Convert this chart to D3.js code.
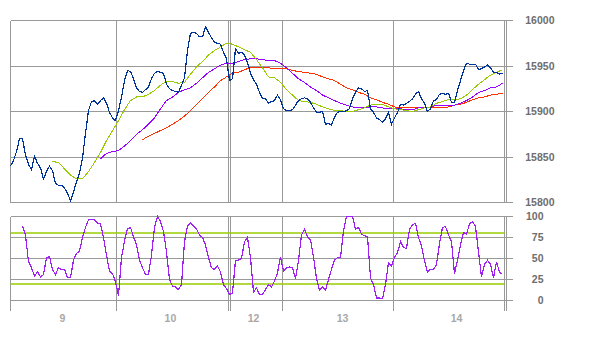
<!DOCTYPE html>
<html>
<head>
<meta charset="utf-8">
<style>
  body { margin: 0; background: #fff; }
  svg text { font-family: "Liberation Sans", Arial, sans-serif; font-weight: bold; font-size: 10.5px; }
</style>
</head>
<body>
<div class="chart"></div>
<script src="https://cdnjs.cloudflare.com/ajax/libs/d3/7.8.5/d3.min.js"></script>
<script>
// price, one value per bar
var price = [
  15840,15846,15856,15870,15870,15852,15842,15836,15851,15843,
  15838,15826,15834,15840,15835,15821,15819,15819,15816,15810,
  15802,15811,15823,15832,15849,15876,15901,15911,15912,15908,
  15912,15915,15909,15899,15893,15890,15901,15916,15934,15945,
  15944,15936,15926,15922,15921,15924,15927,15936,15942,15944,
  15943,15942,15930,15925,15923,15922,15921,15929,15937,15967,
  15986,15987,15986,15982,15982,15993,15987,15981,15976,15975,
  15974,15965,15958,15934,15936,15969,15964,15965,15962,15954,
  15942,15935,15930,15921,15914,15914,15909,15911,15912,15918,
  15913,15903,15901,15901,15902,15907,15912,15914,15915,15914,
  15910,15904,15899,15899,15900,15886,15887,15885,15894,15899,
  15900,15900,15901,15903,15914,15921,15926,15925,15922,15923,
  15903,15899,15893,15891,15888,15892,15899,15886,15893,15899,
  15908,15907,15909,15911,15914,15919,15922,15914,15909,15900,
  15903,15912,15913,15919,15920,15919,15920,15910,15910,15923,
  15934,15945,15953,15952,15952,15952,15946,15947,15949,15951,
  15948,15943,15943,15941,15942
];

// moving averages, one value every 2 bars from their first bar
var maFastStart = 14;
var maFast = [
  15845,15844,15837,15830,15826,15826,15834,15844,15855,15868,
  15879,15890,15902,15912,15916,15916,15919,15923,15929,15933,
  15933,15931,15932,15941,15949,15955,15962,15967,15971,15975,
  15974,15971,15968,15965,15957,15948,15938,15937,15932,15924,
  15918,15912,15911,15910,15908,15905,15903,15901,15901,15900,
  15900,15902,15904,15907,15908,15908,15905,15903,15902,15901,
  15900,15902,15904,15905,15909,15911,15913,15913,15914,15918,
  15924,15930,15935,15940,15943,15946
];
var maMidStart = 30;
var maMid = [
  15848,15854,15856,15857,15862,15868,15875,15880,15886,15893,
  15903,15912,15916,15921,15924,15926,15931,15937,15943,15947,
  15951,15953,15953,15955,15957,15958,15958,15957,15956,15956,
  15953,15948,15942,15936,15932,15927,15923,15918,15915,15912,
  15909,15907,15905,15904,15904,15905,15905,15904,15903,15903,
  15903,15902,15902,15904,15904,15905,15907,15907,15907,15907,
  15909,15912,15916,15921,15923,15926,15927,15931
];
var maSlowStart = 44;
var maSlow = [
  15869,15873,15876,15879,15882,15886,15890,15895,15901,15908,
  15914,15921,15927,15934,15938,15942,15943,15946,15948,15948,
  15948,15948,15947,15947,15947,15945,15944,15943,15942,15941,
  15938,15936,15934,15930,15926,15924,15921,15919,15915,15913,
  15910,15908,15905,15904,15904,15904,15904,15904,15904,15904,
  15904,15905,15907,15908,15910,15913,15915,15916,15918,15919,
  15920
];

// oscillator, one value per bar from its first bar
var oscStart = 4;
var osc = [
  89,78,46,39,29,34,28,31,51,52,
  37,31,39,37,37,27,27,48,56,59,
  75,87,96,96,96,92,91,75,54,35,
  32,22,6,51,71,85,87,76,66,48,
  39,31,31,54,87,100,94,82,58,25,
  17,16,13,19,70,89,92,89,85,78,
  75,66,51,39,37,41,34,19,14,7,
  9,48,48,50,70,75,51,10,15,7,
  7,13,19,16,23,33,52,35,39,40,
  39,26,48,78,85,76,72,52,26,12,
  16,12,25,37,48,51,51,83,100,100,
  100,85,87,79,77,76,27,19,3,3,
  2,19,45,41,51,57,70,63,62,85,
  90,92,75,65,47,34,37,37,43,68,
  87,88,78,70,32,48,66,81,79,91,
  94,88,58,28,43,48,43,27,46,34,
  31
];
var oscLevels = [20, 80];

// session separators and day labels, in bars
var sessionBreaks = [0, 35.33, 72.67, 73.17, 90.67, 127.83, 164.67, 165.33];
var dayNames = ["9", "10", "12", "13", "14"];
var dayAt = [17.3, 53.3, 81, 110.7, 148.7];

var priceTicks = [15800, 15850, 15900, 15950, 16000];
var oscTicks = [0, 25, 50, 75, 100];

var W = 600, H = 340;
var svg = d3.select(".chart").append("svg")
  .attr("width", W).attr("height", H);

var x = d3.scaleLinear().domain([0, 164]).range([10.5, 502.5]);
var y = d3.scaleLinear().domain([15800, 16000]).range([202.5, 20.5]);
var yo = d3.scaleLinear().domain([0, 100]).range([300.5, 216.5]);

var left = x(0), tickEnd = x(165.33) + 7;
var grid = "#999";

// grid of price panel
var topG = svg.append("g").attr("shape-rendering", "crispEdges");
topG.selectAll(".hg").data(priceTicks).enter().append("line")
  .attr("x1", left).attr("x2", tickEnd)
  .attr("y1", function(d){ return y(d); }).attr("y2", function(d){ return y(d); })
  .attr("stroke", grid);
topG.selectAll(".vg").data(sessionBreaks).enter().append("line")
  .attr("x1", function(d){ return x(d); }).attr("x2", function(d){ return x(d); })
  .attr("y1", y(16000)).attr("y2", y(15800))
  .attr("stroke", grid);

// grid of oscillator panel
var botG = svg.append("g").attr("shape-rendering", "crispEdges");
botG.selectAll(".hg").data(oscTicks).enter().append("line")
  .attr("x1", left).attr("x2", tickEnd)
  .attr("y1", function(d){ return yo(d); }).attr("y2", function(d){ return yo(d); })
  .attr("stroke", grid);
botG.selectAll(".vg").data(sessionBreaks).enter().append("line")
  .attr("x1", function(d){ return x(d); }).attr("x2", function(d){ return x(d); })
  .attr("y1", yo(100)).attr("y2", yo(0) + 10)
  .attr("stroke", grid);

// overbought / oversold levels
svg.append("g").selectAll("line").data(oscLevels).enter().append("line")
  .attr("x1", left).attr("x2", x(164.67))
  .attr("y1", function(d){ return Math.round(yo(d)); }).attr("y2", function(d){ return Math.round(yo(d)); })
  .attr("stroke", "#99cc00").attr("stroke-width", 1.6);

function series(values, start, step, scale) {
  return d3.line()
    .x(function(d, i){ return x(start + i * step); })
    .y(function(d){ return scale(d); })(values);
}

var lines = svg.append("g").attr("fill", "none").attr("shape-rendering", "crispEdges");
lines.append("path").attr("d", series(maSlow, maSlowStart, 2, y)).attr("stroke", "#ff3300");
lines.append("path").attr("d", series(maMid, maMidStart, 2, y)).attr("stroke", "#9900ff");
lines.append("path").attr("d", series(maFast, maFastStart, 2, y)).attr("stroke", "#99cc00");
lines.append("path").attr("d", series(price, 0, 1, y)).attr("stroke", "#003399").attr("stroke-width", 1.2);
lines.append("path").attr("d", series(osc, oscStart, 1, yo)).attr("stroke", "#a020f0").attr("stroke-width", 1.2);

// labels
svg.selectAll(".pl").data(priceTicks).enter().append("text")
  .attr("x", tickEnd + 41).attr("y", function(d){ return y(d); })
  .attr("dy", "0.36em").attr("text-anchor", "end").attr("fill", "#6e6e6e")
  .text(function(d){ return d; });
svg.selectAll(".ol").data(oscTicks).enter().append("text")
  .attr("x", tickEnd + 30).attr("y", function(d){ return yo(d); })
  .attr("dy", "0.36em").attr("text-anchor", "end").attr("fill", "#6e6e6e")
  .text(function(d){ return d; });
svg.selectAll(".dl").data(dayNames).enter().append("text")
  .attr("x", function(d, i){ return x(dayAt[i]); }).attr("y", 322)
  .attr("text-anchor", "middle").attr("fill", "#a8a8a8")
  .text(function(d){ return d; });
</script>
</body>
</html>
